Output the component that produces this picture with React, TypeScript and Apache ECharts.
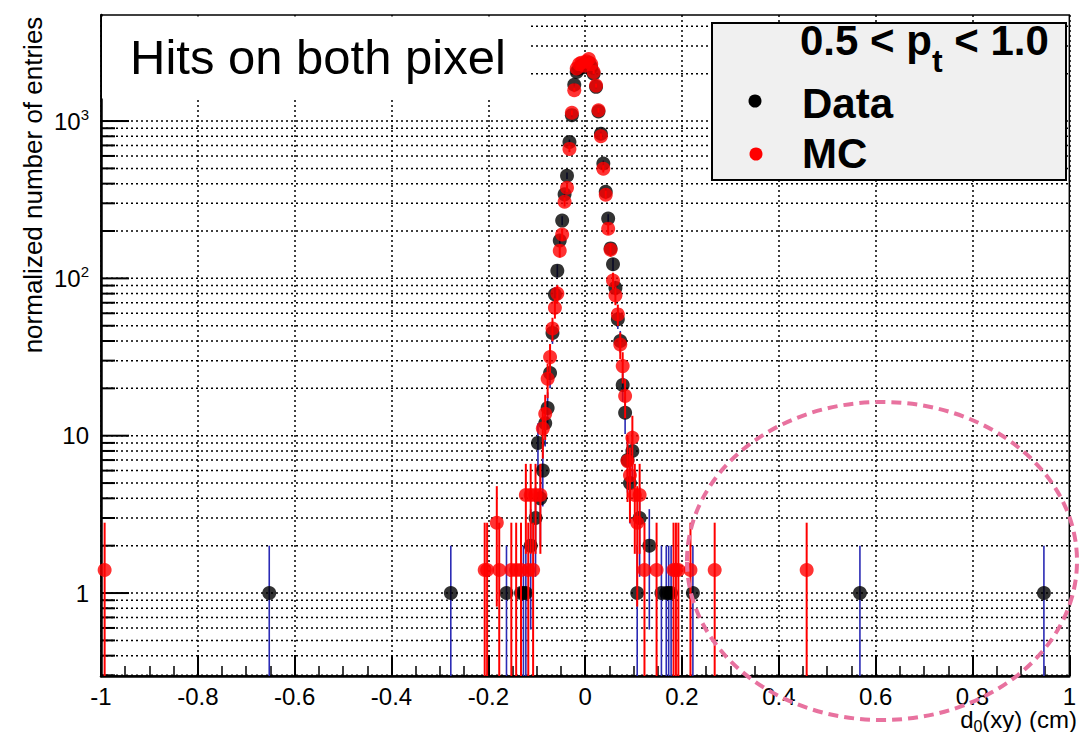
import React, { useEffect, useRef } from 'react';
import * as echarts from 'echarts';

// ---- Data ----
const dataX = [
  -0.6525, -0.2775, -0.1625, -0.1325, -0.1275, -0.1225, -0.1125, -0.1025, -0.0975, -0.0925,
  -0.0875, -0.0825, -0.0775, -0.0725, -0.0675, -0.0625, -0.0575, -0.0525, -0.0475, -0.0425,
  -0.0375, -0.0325, -0.0275, -0.0225, -0.0175, -0.0125, -0.0075, -0.0025, 0.0025, 0.0075,
  0.0125, 0.0175, 0.0225, 0.0275, 0.0325, 0.0375, 0.0425, 0.0475, 0.0525, 0.0575,
  0.0625, 0.0675, 0.0725, 0.0775, 0.0825, 0.0875, 0.0925, 0.0975, 0.1075, 0.1125,
  0.1325, 0.1575, 0.1675, 0.1725, 0.1775, 0.2225, 0.5675, 0.9475,
];
const dataY = [
  1, 1, 1, 1, 1, 1, 2, 3, 9, 4,
  6, 12, 15, 25, 45, 79, 112, 174, 233, 342,
  449, 736, 1090, 1700, 2050, 2150, 2250, 2200, 2300, 2350,
  2200, 2000, 1650, 1150, 830, 537, 355, 240, 155, 123,
  87, 55, 40, 21, 14, 7, 5, 8, 1, 3,
  2, 1, 1, 1, 1, 1, 1, 1,
];
const mcX = [
  -0.9925, -0.2075, -0.2025, -0.1825, -0.1775, -0.1525, -0.1425, -0.1325, -0.1225, -0.1175,
  -0.1125, -0.1075, -0.1025, -0.0925, -0.0875, -0.0825, -0.0775, -0.0725, -0.0675, -0.0625,
  -0.0575, -0.0525, -0.0475, -0.0425, -0.0375, -0.0325, -0.0275, -0.0225, -0.0175, -0.0125,
  -0.0075, -0.0025, 0.0025, 0.0075, 0.0125, 0.0175, 0.0225, 0.0275, 0.0325, 0.0375,
  0.0425, 0.0475, 0.0525, 0.0575, 0.0625, 0.0675, 0.0725, 0.0775, 0.0825, 0.0875,
  0.0925, 0.0975, 0.1025, 0.1075, 0.1125, 0.1225, 0.1475, 0.1825, 0.1875, 0.1925,
  0.2175, 0.2675, 0.4575,
];
const mcY = [
  1.4, 1.4, 1.4, 2.8, 1.4, 1.4, 1.4, 1.4, 4.2, 1.4,
  4.2, 1.4, 4.2, 4.2, 11.1, 13.8, 23, 31.6, 48, 65,
  80, 150, 190, 307, 377, 665, 1128, 1572, 2160, 2300,
  2350, 2250, 2400, 2480, 2300, 2050, 1680, 1170, 800, 497,
  340, 207, 152, 97, 78, 59, 38, 27.7, 17.9, 6.9,
  5.6, 9.7, 4.2, 2.8, 4.2, 1.4, 1.4, 1.4, 1.4, 1.4,
  1.4, 1.4, 1.4,
];
const MC_WEIGHT = 1.4;

// ---- Axes ----
const X_MIN = -1;
const X_MAX = 1;
const Y_MIN = 0.297;
const Y_MAX = 4720;
const decades = [0.1, 1, 10, 100, 1000];
const multipliers = [1, 2, 3, 4, 5, 6, 7, 8, 9];
const yLabels: Record<string, string> = {
  '1': '1',
  '10': '10',
  '100': '{b|10}{s|2}',
  '1000': '{b|10}{s|3}',
};

const FONT = 'Liberation Sans, Arial, Helvetica, sans-serif';
const GRID_DASH = [2, 3];
const GRID_WIDTH = 1.5;

const gridValues = decades
  .flatMap((d) => multipliers.map((m) => +(m * d).toPrecision(6)))
  .filter((v) => v > Y_MIN && v < Y_MAX);

const isDecade = (v: number) => {
  const l = Math.log10(v);
  return Math.abs(l - Math.round(l)) < 1e-6;
};

function errorBarSeries(xs: number[], ys: number[], errs: number[], color: string, width: number, z: number) {
  return {
    type: 'custom',
    z,
    silent: true,
    data: xs.map((x, i) => [x, ys[i], errs[i]]),
    encode: { x: 0, y: 1 },
    renderItem: (_params: any, api: any) => {
      const x = api.value(0);
      const y = api.value(1);
      const e = api.value(2);
      const lo = Math.max(y - e, Y_MIN);
      const hi = Math.min(y + e, Y_MAX);
      const p1 = api.coord([x, lo]);
      const p2 = api.coord([x, hi]);
      return {
        type: 'line',
        shape: { x1: p1[0], y1: p1[1], x2: p2[0], y2: p2[1] },
        style: { stroke: color, lineWidth: width },
      };
    },
  };
}

export default function App() {
  const ref = useRef<HTMLDivElement>(null);

  useEffect(() => {
    if (!ref.current) return;
    const chart = echarts.init(ref.current, null, { renderer: 'svg' });

    const dataErr = dataY.map((v) => Math.sqrt(v));
    const mcErr = mcY.map((v) => Math.sqrt(v * MC_WEIGHT));

    const option: any = {
      animation: false,
      backgroundColor: '#fff',
      textStyle: { fontFamily: FONT },
      grid: {
        left: 101,
        right: 1,
        top: 15,
        bottom: 56,
        show: true,
        borderColor: '#000',
        borderWidth: 1.5,
        backgroundColor: 'transparent',
      },
      xAxis: {
        type: 'value',
        min: X_MIN,
        max: X_MAX,
        interval: 0.2,
        axisLine: { show: true, onZero: false, lineStyle: { color: '#000', width: 2.5 } },
        axisTick: { show: true, inside: true, length: 21, lineStyle: { color: '#000', width: 2 } },
        minorTick: { show: true, splitNumber: 4, length: 10, lineStyle: { color: '#000', width: 1.5 } },
        splitLine: { show: true, lineStyle: { color: '#000', width: GRID_WIDTH, type: GRID_DASH } },
        axisLabel: {
          color: '#000',
          fontSize: 24,
          fontFamily: FONT,
          margin: 8,
          formatter: (v: number) => {
            const r = Math.round(v * 10) / 10;
            if (Math.abs(r) < 1e-9) return '0';
            return String(r);
          },
        },
      },
      yAxis: {
        type: 'log',
        logBase: 10,
        min: Y_MIN,
        max: Y_MAX,
        axisLine: { show: true, onZero: false, lineStyle: { color: '#000', width: 2.5 } },
        axisTick: { show: false },
        splitLine: { show: false },
        minorTick: { show: false },
        axisLabel: {
          color: '#000',
          fontSize: 24,
          fontFamily: FONT,
          margin: 12,
          showMinLabel: false,
          showMaxLabel: false,
          formatter: (v: number) => {
            const key = String(Math.round(v));
            if (Math.abs(v - Math.round(v)) / Math.max(v, 1) > 1e-6) return '';
            return yLabels[key] ?? '';
          },
          rich: {
            b: { fontSize: 24, fontFamily: FONT, color: '#000', lineHeight: 28 },
            s: { fontSize: 15, fontFamily: FONT, color: '#000', lineHeight: 15, verticalAlign: 'top' },
          },
        },
      },
      series: [
        {
          type: 'custom',
          z: 1,
          silent: true,
          data: gridValues.map((v) => [X_MIN, v]),
          encode: { x: 0, y: 1 },
          renderItem: (_params: any, api: any) => {
            const v = api.value(1);
            const a = api.coord([X_MIN, v]);
            const b = api.coord([X_MAX, v]);
            const len = isDecade(v) ? 28 : 14;
            return {
              type: 'group',
              children: [
                {
                  type: 'line',
                  shape: { x1: a[0], y1: a[1], x2: b[0], y2: b[1] },
                  style: { stroke: '#000', lineWidth: GRID_WIDTH, lineDash: GRID_DASH },
                },
                {
                  type: 'line',
                  shape: { x1: a[0], y1: a[1], x2: a[0] + len, y2: a[1] },
                  style: { stroke: '#000', lineWidth: 2 },
                },
              ],
            };
          },
        },
        errorBarSeries(dataX, dataY, dataErr, '#2b2bb5', 1.6, 3),
        {
          type: 'scatter',
          name: 'Data',
          z: 4,
          symbol: 'circle',
          symbolSize: 14,
          itemStyle: { color: '#000' },
          data: dataX.map((x, i) => [x, dataY[i]]),
        },
        errorBarSeries(mcX, mcY, mcErr, '#ff0000', 2, 5),
        {
          type: 'scatter',
          name: 'MC',
          z: 6,
          symbol: 'circle',
          symbolSize: 14,
          itemStyle: { color: '#ff0000' },
          data: mcX.map((x, i) => [x, mcY[i]]),
        },
      ],
      graphic: [
        {
          type: 'rect',
          z: 100,
          shape: { x: 102, y: 16.5, width: 426, height: 82 },
          style: { fill: '#fff' },
        },
        {
          type: 'text',
          z: 101,
          x: 130,
          y: 57,
          style: {
            text: 'Hits on both pixel',
            fontSize: 49,
            fontFamily: FONT,
            fill: '#000',
            align: 'left',
            verticalAlign: 'middle',
          },
        },
        {
          type: 'rect',
          z: 100,
          shape: { x: 712, y: 23, width: 354, height: 157 },
          style: { fill: '#f0f0f0', stroke: '#000', lineWidth: 2 },
        },
        {
          type: 'text',
          z: 101,
          x: 800,
          y: 3,
          style: {
            text: '{a|0.5 < p}{s|t}{a| < 1.0}',
            align: 'left',
            verticalAlign: 'top',
            fill: '#000',
            rich: {
              a: { fontSize: 42, fontWeight: 'bold', fontFamily: FONT, fill: '#000', lineHeight: 74 },
              s: { fontSize: 32, fontWeight: 'bold', fontFamily: FONT, fill: '#000', lineHeight: 32, verticalAlign: 'bottom' },
            },
          },
        },
        {
          type: 'circle',
          z: 101,
          shape: { cx: 755, cy: 101, r: 6.5 },
          style: { fill: '#000' },
        },
        {
          type: 'circle',
          z: 101,
          shape: { cx: 756, cy: 154, r: 6.5 },
          style: { fill: '#ff0000' },
        },
        {
          type: 'text',
          z: 101,
          x: 802,
          y: 103,
          style: {
            text: 'Data',
            fontSize: 42,
            fontWeight: 'bold',
            fontFamily: FONT,
            fill: '#000',
            align: 'left',
            verticalAlign: 'middle',
          },
        },
        {
          type: 'text',
          z: 101,
          x: 802,
          y: 153,
          style: {
            text: 'MC',
            fontSize: 42,
            fontWeight: 'bold',
            fontFamily: FONT,
            fill: '#000',
            align: 'left',
            verticalAlign: 'middle',
          },
        },
        {
          type: 'text',
          z: 101,
          x: 1077,
          y: 719,
          style: {
            text: '{n|d}{s|0}{n|(xy) (cm)}',
            align: 'right',
            verticalAlign: 'middle',
            fill: '#000',
            rich: {
              n: { fontSize: 24, fontFamily: FONT, fill: '#000', lineHeight: 30 },
              s: { fontSize: 16, fontFamily: FONT, fill: '#000', lineHeight: 16, verticalAlign: 'bottom' },
            },
          },
        },
        {
          type: 'text',
          z: 101,
          x: 33,
          y: 185,
          rotation: Math.PI / 2,
          style: {
            text: 'normalized number of entries',
            fontSize: 26,
            fontFamily: FONT,
            fill: '#000',
            align: 'center',
            verticalAlign: 'middle',
          },
        },
        {
          type: 'ellipse',
          z: 102,
          shape: { cx: 882, cy: 561, rx: 195, ry: 159 },
          style: { fill: 'none', stroke: '#e8729f', lineWidth: 4, lineDash: [10, 6] },
        },
      ],
    };

    chart.setOption(option);
    return () => {
      chart.dispose();
    };
  }, []);

  return (
    <div
      ref={ref}
      style={{ position: 'fixed', left: 0, top: 0, width: 1079, height: 732, background: '#fff' }}
    />
  );
}
